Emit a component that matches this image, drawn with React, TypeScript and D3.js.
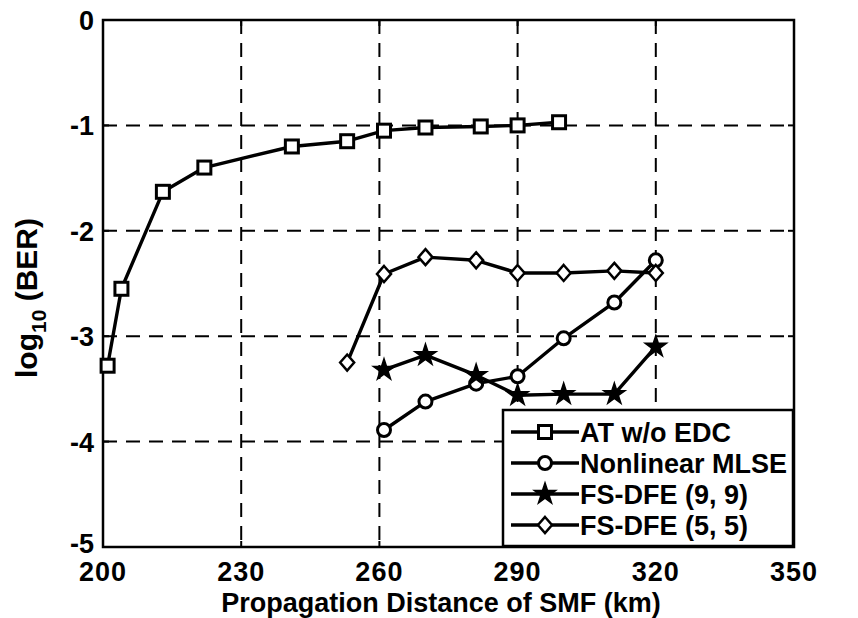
import React from "react";
import * as d3 from "d3";

const xTicks = [200, 230, 260, 290, 320, 350];
const yTicks = [0, -1, -2, -3, -4, -5];

const atX = [201, 204, 213, 222, 241, 253, 261, 270, 282, 290, 299];
const atY = [-3.28, -2.55, -1.63, -1.40, -1.20, -1.15, -1.05, -1.02, -1.01, -1.00, -0.97];

const mlseX = [261, 270, 281, 290, 300, 311, 320];
const mlseY = [-3.89, -3.62, -3.45, -3.38, -3.02, -2.68, -2.28];

const dfe99X = [261, 270, 281, 290, 300, 311, 320];
const dfe99Y = [-3.32, -3.18, -3.37, -3.56, -3.55, -3.55, -3.10];

const dfe55X = [253, 261, 270, 281, 290, 300, 311, 320];
const dfe55Y = [-3.25, -2.41, -2.25, -2.28, -2.40, -2.40, -2.38, -2.40];

const seriesNames = ["AT w/o EDC", "Nonlinear MLSE", "FS-DFE (9, 9)", "FS-DFE (5, 5)"];
const seriesMarkers = ["square", "circle", "star", "diamond"];

const W = 858;
const H = 618;
const left = 103, right = 794, top = 20, bottom = 547;
const FONT = "'Liberation Sans', Arial, sans-serif";

function Marker({ kind, x, y }: { kind: string; x: number; y: number }) {
  const sw = 3;
  if (kind === "square") {
    return <rect x={x - 6.5} y={y - 6.5} width={13} height={13} fill="#fff" stroke="#000" strokeWidth={sw} />;
  }
  if (kind === "circle") {
    return <circle cx={x} cy={y} r={6.5} fill="#fff" stroke="#000" strokeWidth={sw} />;
  }
  if (kind === "diamond") {
    return (
      <path d={`M${x},${y - 8} L${x + 7},${y} L${x},${y + 8} L${x - 7},${y} Z`} fill="#fff" stroke="#000" strokeWidth={2.5} />
    );
  }
  const star = d3.symbol().type(d3.symbolStar).size(140)();
  return <path d={star as string} transform={`translate(${x},${y})`} fill="#000" stroke="#000" strokeWidth={1.5} />;
}

export default function App() {
  const x = d3.scaleLinear().domain([200, 350]).range([left, right]);
  const y = d3.scaleLinear().domain([-5, 0]).range([bottom, top]);
  const line = d3.line<[number, number]>().x((d) => x(d[0])).y((d) => y(d[1]));

  const series = [
    { xs: atX, ys: atY },
    { xs: mlseX, ys: mlseY },
    { xs: dfe99X, ys: dfe99Y },
    { xs: dfe55X, ys: dfe55Y },
  ];

  const legX = 503, legY = 410, legW = 290, legH = 136;
  const rowH = 31;

  return (
    <svg width={W} height={H} style={{ position: "absolute", left: 0, top: 0, background: "#fff" }} fontFamily={FONT}>
      <rect x={0} y={0} width={W} height={H} fill="#fff" />
      {xTicks.slice(1, -1).map((t) => (
        <line key={"gx" + t} x1={x(t)} x2={x(t)} y1={top} y2={bottom} stroke="#000" strokeWidth={2} strokeDasharray="14,9" />
      ))}
      {yTicks.slice(1, -1).map((t) => (
        <line key={"gy" + t} x1={left} x2={right} y1={y(t)} y2={y(t)} stroke="#000" strokeWidth={2} strokeDasharray="14,9" />
      ))}
      <rect x={left} y={top} width={right - left} height={bottom - top} fill="none" stroke="#000" strokeWidth={2.5} />
      {xTicks.map((t) => (
        <g key={"tx" + t}>
          <line x1={x(t)} x2={x(t)} y1={bottom} y2={bottom - 6} stroke="#000" strokeWidth={2} />
          <line x1={x(t)} x2={x(t)} y1={top} y2={top + 6} stroke="#000" strokeWidth={2} />
        </g>
      ))}
      {yTicks.map((t) => (
        <g key={"ty" + t}>
          <line x1={left} x2={left + 6} y1={y(t)} y2={y(t)} stroke="#000" strokeWidth={2} />
          <line x1={right} x2={right - 6} y1={y(t)} y2={y(t)} stroke="#000" strokeWidth={2} />
        </g>
      ))}
      {xTicks.map((t) => (
        <text key={"lx" + t} x={x(t)} y={bottom + 34} textAnchor="middle" fontSize={27} fontWeight="bold" letterSpacing={1}>
          {t}
        </text>
      ))}
      {yTicks.map((t) => (
        <text key={"ly" + t} x={left - 9} y={y(t) + (t === -5 ? 6 : 10)} textAnchor="end" fontSize={27} fontWeight="bold">
          {t}
        </text>
      ))}
      <text x={441} y={612} textAnchor="middle" fontSize={27} fontWeight="bold">
        Propagation Distance of SMF (km)
      </text>
      <text transform={`translate(37, 298) rotate(-90)`} textAnchor="middle" fontSize={30} fontWeight="bold">
        log
        <tspan fontSize={21} dy={9}>10</tspan>
        <tspan dy={-9}> (BER)</tspan>
      </text>
      {series.map((s, i) => {
        const pts = s.xs.map((v, j) => [v, s.ys[j]] as [number, number]);
        return (
          <g key={"s" + i}>
            <path d={line(pts) as string} fill="none" stroke="#000" strokeWidth={3.4} strokeLinejoin="round" />
            {pts.map((p, j) => (
              <Marker key={j} kind={seriesMarkers[i]} x={x(p[0])} y={y(p[1])} />
            ))}
          </g>
        );
      })}
      <rect x={legX} y={legY} width={legW} height={legH} fill="#fff" stroke="#000" strokeWidth={2.5} />
      {seriesNames.map((n, i) => {
        const cy = legY + 22 + i * rowH;
        return (
          <g key={"lg" + i}>
            <line x1={legX + 8} x2={legX + 76} y1={cy} y2={cy} stroke="#000" strokeWidth={3.4} />
            <Marker kind={seriesMarkers[i]} x={legX + 42} y={cy} />
            <text x={legX + 77} y={cy + 10} fontSize={27} fontWeight="bold">
              {n}
            </text>
          </g>
        );
      })}
    </svg>
  );
}
